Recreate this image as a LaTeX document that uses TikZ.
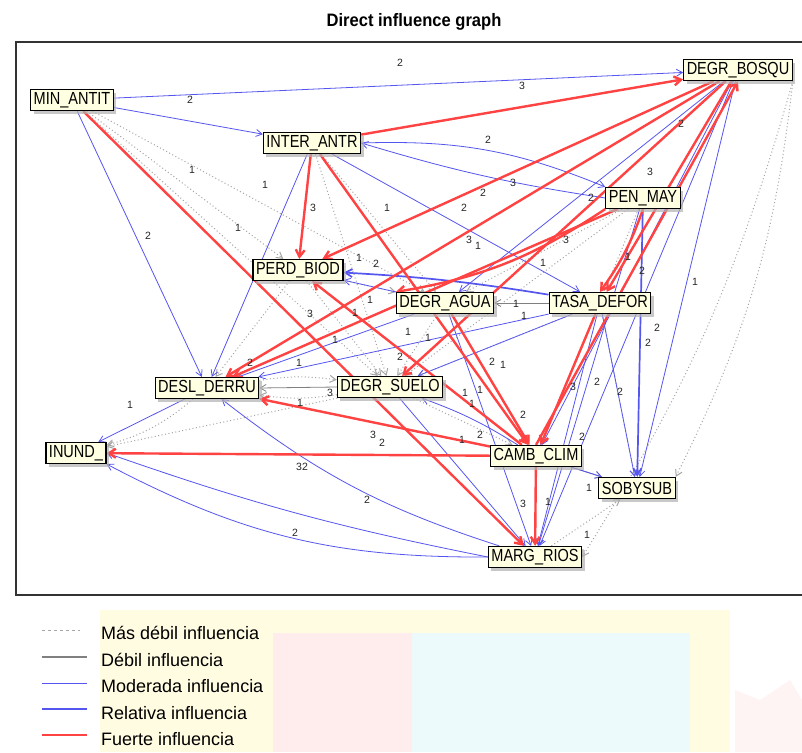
\documentclass[tikz,border=0pt]{standalone}
\usepackage{fontspec}
\setmainfont{Liberation Sans}
\usetikzlibrary{arrows.meta,shadows,calc}
\definecolor{redA}{RGB}{255,66,66}
\definecolor{blueA}{RGB}{85,85,240}
\definecolor{dotA}{RGB}{165,165,165}
\definecolor{nfill}{RGB}{255,255,226}
\definecolor{wmY}{RGB}{255,252,226}
\definecolor{wmP}{RGB}{255,236,236}
\definecolor{wmB}{RGB}{236,250,252}
\pgfdeclarelayer{bg}
\pgfdeclarelayer{edges}
\pgfsetlayers{bg,edges,main}
\newcommand{\nt}[1]{\scalebox{0.83}[1]{#1}}
\tikzset{
  var/.style={draw=black, line width=1.2pt, fill=nfill, inner xsep=3pt, inner ysep=0pt,
    minimum height=21pt, font=\fontsize{17.5}{18}\selectfont,
    drop shadow={shadow xshift=3pt, shadow yshift=-3pt, fill=gray!60, opacity=0.7}},
  strong/.style={draw=redA, line width=2.4pt, -{Straight Barb[length=7pt,width=9pt]}},
  relative/.style={draw=blueA, line width=1.7pt, -{Straight Barb[length=7pt,width=8pt]}},
  moderate/.style={draw=blueA, line width=0.8pt, -{Straight Barb[length=6pt,width=7pt]}},
  weak/.style={draw=gray, line width=0.8pt, -{Straight Barb[length=6pt,width=7pt]}},
  weakest/.style={draw=dotA, line width=1pt, dash pattern=on 1pt off 2.5pt, -{Straight Barb[length=6pt,width=7pt]}},
  lbl/.style={font=\fontsize{10.5}{10.5}\selectfont, text=black!85, inner sep=0pt},
  legtxt/.style={font=\fontsize{18}{18}\selectfont, anchor=west, inner sep=0pt}
}
\begin{document}
\begin{tikzpicture}[x=1pt,y=-1pt]
\useasboundingbox (0,0) rectangle (802,752);
% watermark
\begin{pgfonlayer}{bg}
\fill[white] (0,0) rectangle (802,752);
\fill[wmY] (100,610) rectangle (730,752);
\fill[wmP] (273,633) rectangle (412,752);
\fill[wmB] (412,633) rectangle (690,752);
\fill[wmP!60] (735,690) -- (760,700) -- (790,680) -- (802,700) -- (802,752) -- (735,752) -- cycle;
\end{pgfonlayer}
% title and frame
\node[font=\bfseries\fontsize{18}{18}\selectfont, inner sep=0pt] (title) at (414,22) {\scalebox{0.92}[1]{Direct influence graph}};
\draw[line width=1.3pt, black!80] (802,42) -- (16,42) -- (16,595) -- (802,595);
% variables
\node[var] (MA) at (72,100) {\nt{MIN\_ANTIT}};
\node[var] (DB) at (738,70) {\nt{DEGR\_BOSQU}};
\node[var] (IA) at (312,143) {\nt{INTER\_ANTR}};
\node[var] (PM) at (643,198) {\nt{PEN\_MAY}};
\node[var] (PB) at (298,270) {\nt{PERD\_BIOD}};
\node[var] (DA) at (445,303) {\nt{DEGR\_AGUA}};
\node[var] (TD) at (600,303) {\nt{TASA\_DEFOR}};
\node[var] (DD) at (207,388) {\nt{DESL\_DERRU}};
\node[var] (DS) at (390,387) {\nt{DEGR\_SUELO}};
\node[var] (IN) at (76,453) {\nt{INUND\_}};
\node[var] (CC) at (536,456) {\nt{CAMB\_CLIM}};
\node[var] (SS) at (637,488) {\nt{SOBYSUB}};
\node[var] (MR) at (535,557) {\nt{MARG\_RIOS}};
\begin{pgfonlayer}{edges}
% weakest influences
\foreach \a/\b in {MA/PB, MA/DA, MA/DS, IA/DS, IA/DA, PB/DD, PB/DS, PB/DA, DA/DS, PM/DA, PM/CC, DS/CC, TD/SS, MR/SS, DS/IN, DA/CC, PM/DS, TD/DS}
  \draw[weakest] (\a) -- (\b);
\draw[weakest] (DD) to[bend left=12] (IN);
\draw[weakest] (DS) to[bend left=8] (DD);
\draw[weakest] (DD) to[bend left=8] (DS);
\draw[weakest] (DB.south east) to[bend left=10] (SS.north east);
\draw[weakest] (DB.south east) to[bend left=8] (MR.east);
% weak influences
\draw[weak] (TD) -- (DA);
\draw[weak] (CC) -- (SS);
\draw[weak] (DS.west) -- (DD.east);
% moderate influences
\foreach \a/\b in {MA/DB, MA/IA, MA/DD, IA/DD, IA/TD, DA/PB, DB/DA, TD/DD, DA/DD, TD/DS, TD/MR, TD/SS, TD/CC, DB/MR, DB/SS, DD/IN, CC/SS, DA/MR, DS/MR, PM/MR, CC/DD, DB/CC}
  \draw[moderate] (\a) -- (\b);
\draw[moderate] (PM.west) to[bend left=4] (IA.east);
\draw[moderate] (IA.east) to[bend left=12] (PM.north west);
\draw[moderate] (MR) to[bend left=10] (DD);
\draw[moderate] (MR.west) to[bend left=4] (IN.east);
\draw[moderate] (MR.west) to[bend left=14] (IN.south east);
\draw[moderate] (CC) to[bend right=6] (DS);
% relative influences
\draw[relative] (TD) to[bend right=3] (PB);
\draw[relative] (PM) -- (SS);
% strong influences
\foreach \a/\b in {IA/DB, IA/PB, MA/MR, DB/PB, DB/DD, DB/DS, DB/TD, PM/DD, TD/CC, CC/MR, CC/IN, CC/DD, IA/CC, CC/PB, DA/CC}
  \draw[strong] (\a) -- (\b);
\draw[strong] (PM.south west) to[bend left=12] (DA.north west);
\draw[strong] (PM.south) to[bend left=8] (TD.north);
\draw[strong] (CC.north) -- (DB.south);
\end{pgfonlayer}
% values
\foreach \x/\y/\t [count=\i] in {
 400/63/2, 522/86/3, 190/100/2, 488/140/2, 513/183/3, 483/193/2, 464/208/2, 591/198/2,
 650/172/3, 681/124/2, 192/170/1, 265/185/1, 313/208/3, 387/208/1, 148/236/2, 238/228/1,
 469/240/3, 478/246/1, 566/240/3, 543/263/1, 628/257/1, 642/271/2, 695/282/1, 359/258/1,
 376/264/2, 370/300/1, 355/313/1, 310/314/3, 408/332/1, 335/340/1, 428/338/1, 299/363/1,
 250/363/2, 516/304/1, 524/316/1, 400/357/2, 492/362/2, 503/365/1, 573/387/3, 597/382/2,
 620/392/2, 657/328/2, 648/343/2, 523/415/2, 480/435/2, 462/440/1, 582/437/2, 589/488/1,
 523/504/3, 548/502/1, 587/535/1, 465/393/1, 472/404/1, 480/390/1, 130/405/1, 300/403/1,
 330/393/3, 373/435/3, 382/443/2, 302/467/32, 367/500/2, 295/533/2}
  \node[lbl] (v\i) at (\x,\y) {\t};
% legend
\draw[dotA, line width=1pt, dash pattern=on 3pt off 3pt] (42,630) -- (80,630);
\draw[gray, line width=1.5pt] (42,657) -- (87,657);
\draw[blueA, line width=1pt] (42,683) -- (87,683);
\draw[blueA, line width=2.4pt] (42,709) -- (87,709);
\draw[redA, line width=2.4pt] (42,735) -- (87,735);
\node[legtxt] (l1) at (101,633) {Más débil influencia};
\node[legtxt] (l2) at (101,660) {Débil influencia};
\node[legtxt] (l3) at (101,686) {Moderada influencia};
\node[legtxt] (l4) at (101,713) {Relativa influencia};
\node[legtxt] (l5) at (101,739) {Fuerte influencia};
\end{tikzpicture}
\end{document}
